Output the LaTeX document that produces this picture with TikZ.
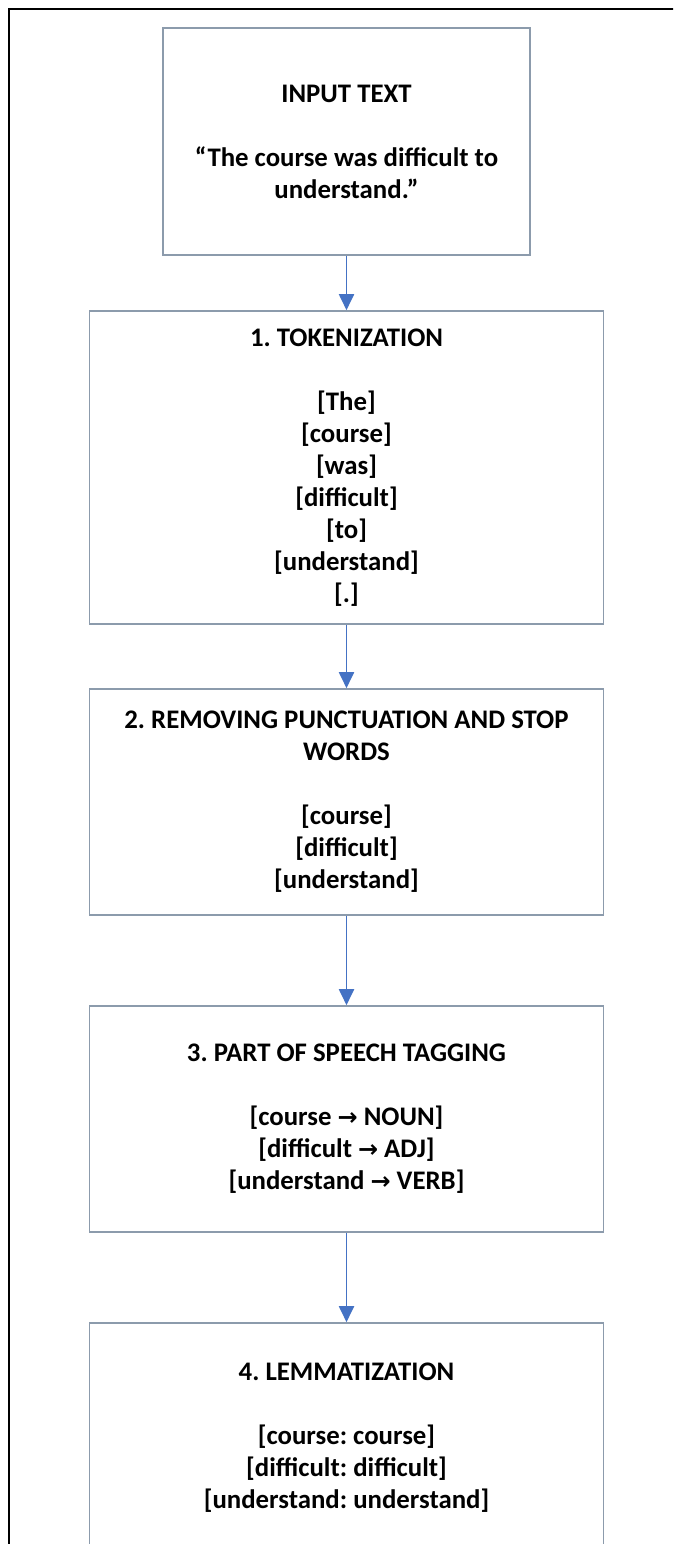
\documentclass[tikz,border=0pt]{standalone}
\usepackage{fontspec}
\setmainfont{Carlito}
\newfontfamily\arrowfont{DejaVu Sans}
\usetikzlibrary{arrows.meta}
\definecolor{boxgray}{RGB}{140,155,172}
\definecolor{arrowblue}{RGB}{68,114,196}
\newcommand{\rarr}{{\arrowfont\fontsize{24}{32}\selectfont →}}
\frenchspacing
\begin{document}
\frenchspacing
\begin{tikzpicture}[x=1pt,y=-1pt,
  stepbox/.style={draw=boxgray, line width=1.6pt, minimum width=514pt, inner sep=0pt, align=center,
    font=\fontsize{26.8}{32}\selectfont\bfseries\frenchspacing},
  flow/.style={draw=arrowblue, line width=1.9pt, -{Triangle[width=15pt,length=16pt]}}]
\useasboundingbox (0,0) rectangle (673,1544);
\clip (0,0) rectangle (673,1544);
\fill[white] (0,0) rectangle (673,1544);
\draw[line width=2.2pt] (9,1560) -- (9,9) -- (690,9);

\node[stepbox, minimum width=367pt, minimum height=227pt] (b0) at (346.5,141.5)
  {INPUT TEXT\\[32pt]“The course was difficult to\\understand.”};
\node[stepbox, minimum height=313pt] (b1) at (346.5,467.5)
  {1. TOKENIZATION\\[32pt]{[The]}\\{[course]}\\{[was]}\\{[difficult]}\\{[to]}\\{[understand]}\\{[.]}};
\node[stepbox, minimum height=226pt] (b2) at (346.5,802)
  {2. REMOVING PUNCTUATION AND STOP\\WORDS\\[32pt]{[course]}\\{[difficult]}\\{[understand]}};
\node[stepbox, minimum height=226pt] (b3) at (346.5,1119)
  {3. PART OF SPEECH TAGGING\\[32pt]{[course \rarr{} NOUN]}\\{[difficult \rarr{} ADJ]}\\{[understand \rarr{} VERB]}};
\node[stepbox, minimum height=230pt] (b4) at (346.5,1438)
  {4. LEMMATIZATION\\[32pt]{[course: course]}\\{[difficult: difficult]}\\{[understand: understand]}};

\draw[flow] (b0.south) -- (b1.north);
\draw[flow] (b1.south) -- (b2.north);
\draw[flow] (b2.south) -- (b3.north);
\draw[flow] (b3.south) -- (b4.north);
\end{tikzpicture}
\end{document}
